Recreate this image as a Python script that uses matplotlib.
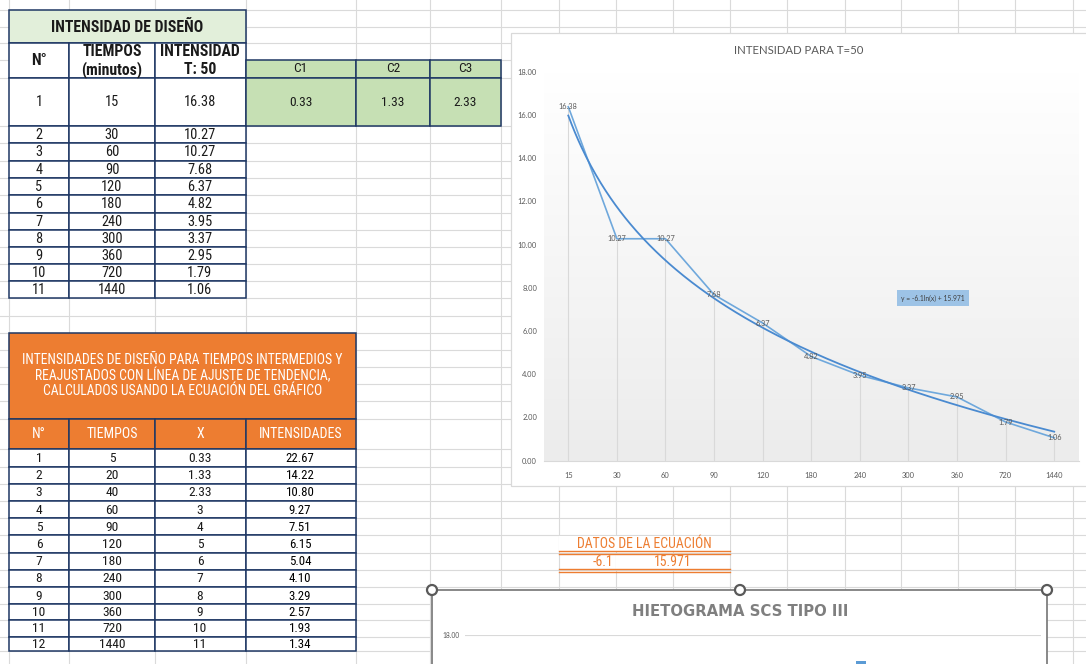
import os
import glob
import numpy as np
import matplotlib
matplotlib.use("Agg")
import matplotlib.pyplot as plt
from matplotlib.patches import Rectangle, Circle
from matplotlib.colors import LinearSegmentedColormap
from matplotlib import font_manager as fm
from matplotlib.font_manager import FontProperties
from matplotlib.textpath import TextPath

# ---------------- data ----------------
tiempos = [15, 30, 60, 90, 120, 180, 240, 300, 360, 720, 1440]
intensidad_t50 = [16.38, 10.27, 10.27, 7.68, 6.37, 4.82, 3.95, 3.37, 2.95, 1.79, 1.06]
c_labels = ["C1", "C2", "C3"]
c_values = ["0.33", "1.33", "2.33"]
tiempos_int = [5, 20, 40, 60, 90, 120, 180, 240, 300, 360, 720, 1440]
x_int = ["0.33", "1.33", "2.33", "3", "4", "5", "6", "7", "8", "9", "10", "11"]
intens_int = [22.67, 14.22, 10.80, 9.27, 7.51, 6.15, 5.04, 4.10, 3.29, 2.57, 1.93, 1.34]
eq_coef = -6.1
eq_const = 15.971
y_ticks = [0, 2, 4, 6, 8, 10, 12, 14, 16, 18]
hieto_ticks = [18]
hieto_hours = [17]
hieto_values = [16.8]

orange_title = ["INTENSIDADES DE DISEÑO PARA TIEMPOS INTERMEDIOS Y",
                "REAJUSTADOS CON LÍNEA DE AJUSTE DE TENDENCIA,",
                "CALCULADOS USANDO LA ECUACIÓN DEL GRÁFICO"]

# ---------------- fonts ----------------
ALL = [f.fname for f in fm.fontManager.ttflist]
for d in ("/usr/share/fonts", "/usr/local/share/fonts", os.path.expanduser("~/.fonts")):
    ALL += glob.glob(os.path.join(d, "**", "*.ttf"), recursive=True)
    ALL += glob.glob(os.path.join(d, "**", "*.otf"), recursive=True)
LOW = {}
for p in ALL:
    LOW.setdefault(os.path.basename(p).lower(), p)


def find(names):
    for n in names:
        if n.lower() in LOW:
            return LOW[n.lower()]
    return None


def find_generic(bold):
    bad = ["italic", "oblique", "light", "thin", "black", "medium", "semi", "extra", "ultra", "mono"]
    for key, p in sorted(LOW.items()):
        if ("condensed" in key or "narrow" in key) and not any(b in key for b in bad):
            if bold == ("bold" in key):
                return p
    return None


REG = find(["LiberationSansNarrow-Regular.ttf", "RobotoCondensed-Regular.ttf",
            "NotoSans-Condensed.ttf", "DejaVuSansCondensed.ttf"]) or find_generic(False)
BLD = find(["LiberationSansNarrow-Bold.ttf", "RobotoCondensed-Bold.ttf",
            "NotoSans-CondensedBold.ttf", "DejaVuSansCondensed-Bold.ttf"]) or find_generic(True)
CHARTFAM = ["Lato", "DejaVu Sans"]


def fprop(kind):
    if kind == "reg":
        return FontProperties(fname=REG) if REG else FontProperties(family="Liberation Sans")
    if kind == "bold":
        if BLD:
            return FontProperties(fname=BLD)
        if REG:
            return FontProperties(fname=REG, weight="bold")
        return FontProperties(family="Liberation Sans", weight="bold")
    if kind == "chart":
        return FontProperties(family=CHARTFAM)
    if kind == "title":
        return FontProperties(family="DejaVu Sans", weight="bold")
    return FontProperties(family="DejaVu Sans")


PX = 100.0 / 72.0  # pixels per point


def sz(s, wt, ht, kind, a, hs=None):
    """font size (pt) blending a width fit and an ink-height fit (weight a on height)"""
    p = fprop(kind)
    e1 = TextPath((0, 0), s, size=10, prop=p).get_extents()
    e2 = TextPath((0, 0), hs or s, size=10, prop=p).get_extents()
    sw = 10.0 * wt / max(e1.width * PX, 1e-6)
    sh = 10.0 * ht / max(e2.height * PX, 1e-6)
    return sw ** (1 - a) * sh ** a


W, H = 1086, 664
fig = plt.figure(figsize=(W / 100, H / 100), dpi=100)
base = fig.add_axes([0, 0, 1, 1])
base.set_xlim(0, W)
base.set_ylim(H, 0)
base.axis("off")

GRID = "#dadada"
NAVY = "#1f3864"
ORANGE = "#ed7d31"
GREEN = "#c6e0b4"
LIGHTGREEN = "#e2efda"

COLS = [9, 69, 155, 245.5, 356, 430, 501, 558.5, 615.5, 672.5, 730, 787, 845, 901, 958, 1015, 1073]
ROWS = [10, 26.5, 43, 60, 77.5, 126, 143.3, 160.7, 178, 195.3, 212.7, 230, 247, 264, 281.3, 298.3,
        315.5, 332.5, 350, 367, 384, 401, 418.5, 449.3, 466.7, 483.7, 501, 518.3, 535.3, 552.7,
        570, 587, 604, 620, 636.7, 651.3]
for x in COLS:
    base.plot([x, x], [0, H], color=GRID, lw=0.8, zorder=0)
for y in ROWS:
    base.plot([0, W], [y, y], color=GRID, lw=0.8, zorder=0)


def cell(x0, y0, x1, y1, fc="white", ec=NAVY, lw=1.1, z=2):
    base.add_patch(Rectangle((x0, y0), x1 - x0, y1 - y0, facecolor=fc,
                             edgecolor=ec, lw=lw, zorder=z))


def put(x, y, s, size, color="#1a1a1a", kind="reg", ha="center"):
    p = fprop(kind)
    p.set_size(size)
    base.text(x, y, s, fontproperties=p, color=color, ha=ha, va="center", zorder=7)


# sizes fitted to widths / heights measured on the reference
S_T1TITLE = sz("INTENSIDAD DE DISEÑO", 154, 11, "bold", 0.3, hs="INTENSIDAD")
S_T1HEAD = sz("INTENSIDAD", 80.7, 10.7, "bold", 0.3)
S_T1DATA = sz("1440", 26, 10.6, "reg", 0.75)
S_GREEN = sz("0.33", 19, 10, "reg", 0.85)
S_OTITLE = sz(orange_title[0], 321, 10, "reg", 0.15, hs="INTENSIDADES")
S_OHEAD = sz("INTENSIDADES", 82, 10, "reg", 0.4)
S_ODATA = sz("1440", 21.7, 10, "reg", 0.9)
S_OINT = sz("22.67", 25, 9.5, "reg", 0.9)
S_DATOS = sz("DATOS DE LA ECUACIÓN", 137, 9.3, "reg", 0.3, hs="DATOS")
S_HIETO = sz("HIETOGRAMA SCS TIPO III", 214, 10.5, "title", 0.0)

# ---------------- table 1 ----------------
T1C = [9, 69, 155, 245.5]
T1R = [77.5, 126, 143.3, 160.7, 178, 195.3, 212.7, 230, 247, 264, 281.3, 298.3]
cell(9, 10, 245.5, 43, fc=LIGHTGREEN)
put(127, 27, "INTENSIDAD DE DISEÑO", S_T1TITLE, kind="bold")
for j in range(3):
    cell(T1C[j], 43, T1C[j + 1], 77.5)
put(39, 60.5, "N°", S_T1HEAD, kind="bold")
put(112, 52, "TIEMPOS", S_T1HEAD, kind="bold")
put(112, 70, "(minutos)", S_T1HEAD, kind="bold")
put(200, 52, "INTENSIDAD", S_T1HEAD, kind="bold")
put(200, 70, "T: 50", S_T1HEAD, kind="bold")
for i in range(len(tiempos)):
    y0, y1 = T1R[i], T1R[i + 1]
    for j in range(3):
        cell(T1C[j], y0, T1C[j + 1], y1)
    yc = (y0 + y1) / 2 + 0.5
    put(39, yc, str(i + 1), S_T1DATA)
    put(112, yc, str(tiempos[i]), S_T1DATA)
    put(200, yc, f"{intensidad_t50[i]:.2f}", S_T1DATA)

# ---------------- green table ----------------
GC = [245.5, 356, 430, 501]
for j in range(3):
    cell(GC[j], 60, GC[j + 1], 77.5, fc=GREEN)
    cell(GC[j], 77.5, GC[j + 1], 126, fc=GREEN)
    xc = (GC[j] + GC[j + 1]) / 2
    put(xc, 69, c_labels[j], S_GREEN)
    put(xc, 102, c_values[j], S_GREEN)

# ---------------- orange table ----------------
OC = [9, 69, 155, 245.5, 356]
OR = [449.3, 466.7, 483.7, 501, 518.3, 535.3, 552.7, 570, 587, 604, 620, 636.7, 651.3]
cell(9, 332.5, 356, 418.5, fc=ORANGE)
for k, line in enumerate(orange_title):
    put(182.5, 360.5 + 15.3 * k, line, S_OTITLE, color="white")
heads = ["N°", "TIEMPOS", "X", "INTENSIDADES"]
for j in range(4):
    cell(OC[j], 418.5, OC[j + 1], 449.3, fc=ORANGE)
    put((OC[j] + OC[j + 1]) / 2, 434, heads[j], S_OHEAD, color="white")
for i in range(len(tiempos_int)):
    y0, y1 = OR[i], OR[i + 1]
    for j in range(4):
        cell(OC[j], y0, OC[j + 1], y1)
    yc = (y0 + y1) / 2 + 0.5
    put(39, yc, str(i + 1), S_ODATA)
    put(112, yc, str(tiempos_int[i]), S_ODATA)
    put(200, yc, x_int[i], S_ODATA)
    put(300, yc, f"{intens_int[i]:.2f}", S_OINT, color="black")

# ---------------- equation data ----------------
base.add_patch(Rectangle((559, 536), 170.5, 16, facecolor="white", edgecolor="none", zorder=1))
base.add_patch(Rectangle((616.2, 553.5), 113, 16, facecolor="white", edgecolor="none", zorder=1))
for yy in (550.8, 553.6, 568.9, 571.7):
    base.plot([558.5, 730], [yy, yy], color=ORANGE, lw=1.0, zorder=3)
put(644, 543.5, "DATOS DE LA ECUACIÓN", S_DATOS, color=ORANGE)
put(613, 561.5, f"{eq_coef}", S_DATOS, color=ORANGE, ha="right")
put(673, 561.5, f"{eq_const}", S_DATOS, color=ORANGE)

# ---------------- main chart ----------------
base.add_patch(Rectangle((510.5, 32.5), 620, 453.5, facecolor="white",
                         edgecolor="#d9d9d9", lw=0.9, zorder=3))
put(799, 50, "INTENSIDAD PARA T=50", sz("INTENSIDAD PARA T=50", 132, 7.5, "chart", 0.2),
    color="#595959", kind="chart")

PL, PR, PT, PB = 544, 1078.5, 71.7, 460.7
ax = fig.add_axes([PL / W, (H - PB) / H, (PR - PL) / W, (PB - PT) / H])
ax.patch.set_alpha(0)
n = len(tiempos)
xs = np.arange(n)
cmap = LinearSegmentedColormap.from_list("g", ["#ffffff", "#ececec"])
grad = np.linspace(1, 0, 256).reshape(-1, 1)
ax.imshow(grad, cmap=cmap, aspect="auto", extent=(-0.5, n - 0.5, 0, 18),
          origin="lower", zorder=0)
ax.vlines(xs, 0, intensidad_t50, color="#d9d9d9", lw=0.8, zorder=1)
ax.plot(xs, intensidad_t50, color="#6fa8dc", lw=1.2, zorder=3)
xt = np.linspace(1, n, 300)
ax.plot(xt - 1, eq_coef * np.log(xt) + eq_const, color="#4a8ad0", lw=1.3, zorder=3)
for i, v in enumerate(intensidad_t50):
    ax.text(i, v, f"{v:.2f}", fontsize=5.3, color="#595959", ha="center", va="center",
            family=CHARTFAM, zorder=4)
ax.set_xlim(-0.5, n - 0.5)
ax.set_ylim(0, 18)
ax.set_xticks(xs)
ax.set_xticklabels([str(t) for t in tiempos], family=CHARTFAM)
ax.set_yticks(y_ticks)
ax.set_yticklabels([f"{t:.2f}" for t in y_ticks], family=CHARTFAM)
ax.tick_params(axis="both", length=0, colors="#595959", labelsize=5.4)
ax.tick_params(axis="x", pad=8)
ax.tick_params(axis="y", pad=5)
for s in ("top", "right", "left"):
    ax.spines[s].set_visible(False)
ax.spines["bottom"].set_color("#d9d9d9")
ax.spines["bottom"].set_linewidth(0.8)
ax.text(0.728, 0.418, f"y = {eq_coef}ln(x) + {eq_const}", transform=ax.transAxes,
        fontsize=4.9, color="#404040", ha="center", va="center",
        family=CHARTFAM, zorder=5,
        bbox=dict(boxstyle="square,pad=0.6", fc="#9dc3e6", ec="none"))

# ---------------- hietograma chart ----------------
base.add_patch(Rectangle((432, 590), 615, 120, facecolor="white",
                         edgecolor="#7f7f7f", lw=1.3, zorder=3))
for hx in (432, 740, 1047):
    base.add_patch(Circle((hx, 590), 5, facecolor="white", edgecolor="#595959",
                          lw=1.6, zorder=8))
put(740, 612, "HIETOGRAMA SCS TIPO III", S_HIETO, color="#7f7f7f", kind="title")

HL, HR, HT = 465, 1041, 635
HB = HT + 18 * 21.6
ax2 = fig.add_axes([HL / W, (H - HB) / H, (HR - HL) / W, (HB - HT) / H])
ax2.patch.set_alpha(0)
ax2.bar(hieto_hours, hieto_values, width=0.42, color="#5b9bd5", zorder=3)
ax2.set_xlim(0.5, 24.5)
ax2.set_ylim(0, 18)
ax2.set_yticks(hieto_ticks)
ax2.set_yticklabels([f"{t:.2f}" for t in hieto_ticks], family=CHARTFAM)
ax2.set_xticks([])
ax2.tick_params(axis="y", length=0, colors="#595959", labelsize=4.8, pad=4)
ax2.grid(axis="y", color="#d9d9d9", lw=0.8)
ax2.set_axisbelow(True)
for s in ax2.spines.values():
    s.set_visible(False)

fig.savefig("out.png", dpi=100)
